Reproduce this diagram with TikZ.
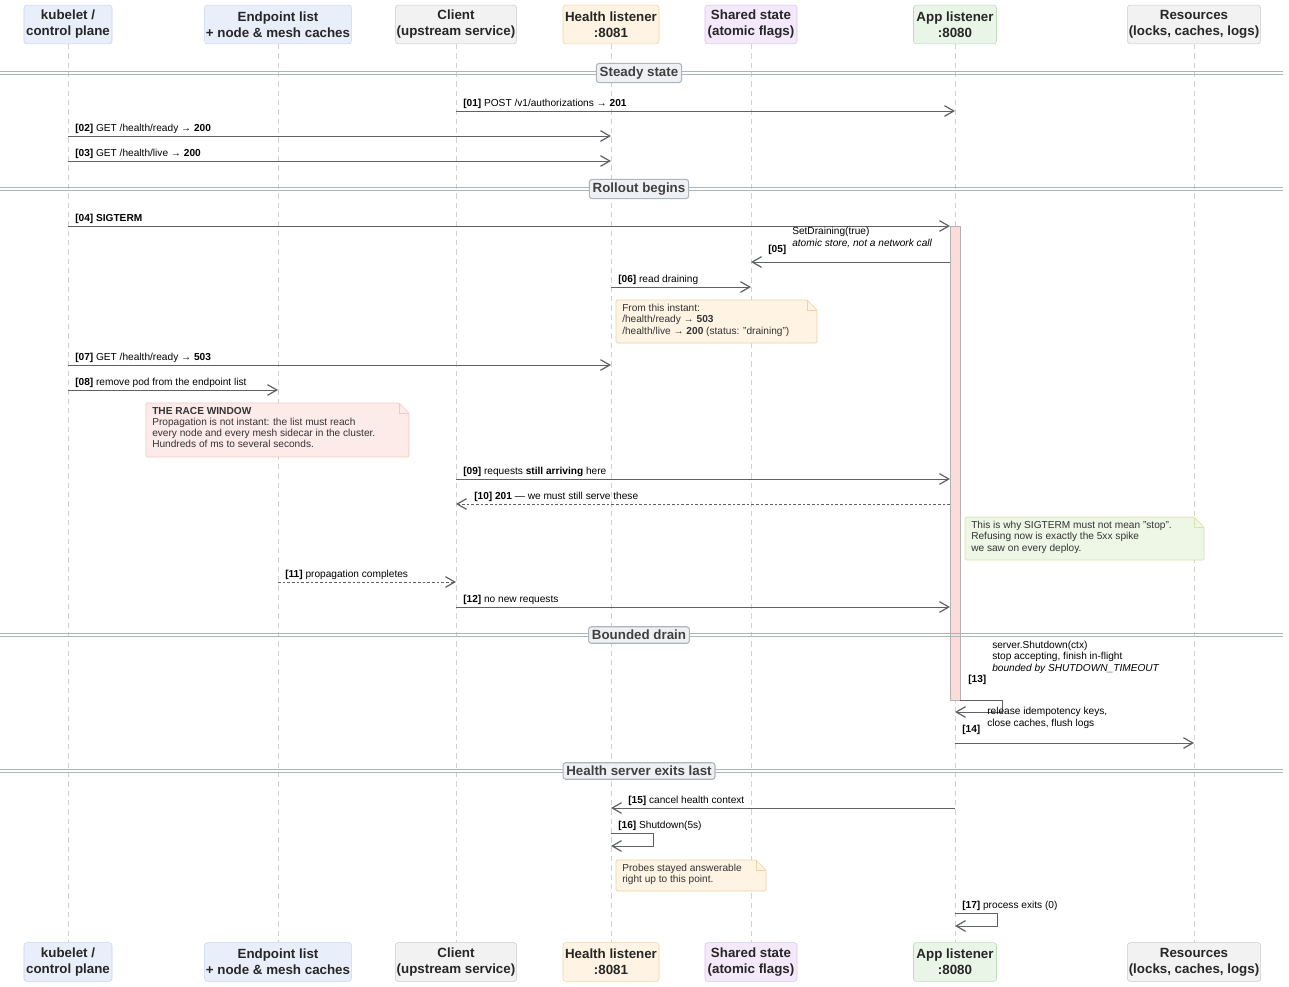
\documentclass[tikz,border=0pt]{standalone}
\usepackage{fontspec}
\setmainfont{Liberation Sans}
\usetikzlibrary{arrows.meta}

\definecolor{blueF}{HTML}{E9EFFA}\definecolor{blueD}{HTML}{C5D3EA}
\definecolor{grayF}{HTML}{F2F2F3}\definecolor{grayD}{HTML}{C9CBCF}
\definecolor{orangeF}{HTML}{FFF4E3}\definecolor{orangeD}{HTML}{EDD2A4}
\definecolor{purpleF}{HTML}{F4E8FB}\definecolor{purpleD}{HTML}{D8C4E8}
\definecolor{greenF}{HTML}{E9F5E6}\definecolor{greenD}{HTML}{BDDCB8}
\definecolor{pinkF}{HTML}{FDEBE9}\definecolor{pinkD}{HTML}{F0C9C4}
\definecolor{noteGF}{HTML}{EEF6E6}\definecolor{noteGD}{HTML}{DCE3A8}
\definecolor{barF}{HTML}{FADCD8}
\definecolor{lineC}{HTML}{5E6166}
\definecolor{divF}{HTML}{EEF0F3}\definecolor{divD}{HTML}{AEB4BC}

\tikzset{
  part/.style={draw, rounded corners=2pt, align=center, font=\bfseries, text=black!85,
    minimum height=29pt, inner sep=1pt},
  life/.style={draw=black!18, dash pattern=on 4pt off 3pt, line width=0.5pt},
  msg/.style={draw=lineC, line width=0.6pt, -{Straight Barb[length=7pt,width=8pt,line width=0.9pt]}},
  reply/.style={msg, dash pattern=on 2pt off 1.5pt},
  lbl/.style={anchor=base west, inner sep=0pt, align=left},
  divider/.style={draw=divD, fill=divF, rounded corners=2pt, font=\bfseries, text=black!75,
    line width=0.8pt, inner sep=2.5pt},
  notetext/.style={anchor=north west, inner sep=0pt, align=left, text=black!80}
}

% dog-ear note: x1,y1,x2,y2,fill,draw
\newcommand{\notebox}[6]{%
  \draw[fill=#5, draw=#6, line width=0.5pt, rounded corners=1pt]
    (#1,#2) -- (#3-10,#2) -- (#3,#2+10) -- (#3,#4) -- (#1,#4) -- cycle;
  \draw[draw=#6, line width=0.5pt] (#3-10,#2) -- (#3-10,#2+10) -- (#3,#2+10);}

\newcommand{\divline}[2]{%
  \draw[divD, line width=0.6pt] (0,#1-1.5) -- (1283,#1-1.5) (0,#1+1.5) -- (1283,#1+1.5);
  \node[divider] at (639,#1) {#2};}

\begin{document}
\begin{tikzpicture}[x=0.75pt, y=-0.75pt, font=\fontsize{7.6}{8.4}\selectfont]
\useasboundingbox[fill=white] (0,0) rectangle (1289,986);

% Participants
\foreach \n/\x/\w/\f/\d/\t in {
  kub/68/88/blueF/blueD/{kubelet /\\control plane},
  end/278/144/blueF/blueD/{Endpoint list\\+ node \& mesh caches},
  cli/456/121/grayF/grayD/{Client\\(upstream service)},
  hea/611/96/orangeF/orangeD/{Health listener\\:8081},
  sha/751/92/purpleF/purpleD/{Shared state\\(atomic flags)},
  app/955/83/greenF/greenD/{App listener\\:8080},
  res/1194/132/grayF/grayD/{Resources\\(locks, caches, logs)}}{
  \node[part, fill=\f, draw=\d, minimum width=\w*0.75pt] (\n) at (\x,24.5) {\t};
  \node[part, fill=\f, draw=\d, minimum width=\w*0.75pt] (\n b) at (\x,962) {\t};
  \draw[life] (\n.south) -- (\n b.north);
}

% Activation bar
\draw[fill=barF, draw=black!30, line width=0.5pt] (950,226) rectangle (960,700);

% Phases
\divline{73}{Steady state}
\divline{189}{Rollout begins}
\divline{635}{Bounded drain}
\divline{771}{Health server exits last}

% Messages
\draw[msg] (cli |- 0,111) -- (app |- 0,111);
\node[lbl] at (463,106) {\textbf{[01]} POST /v1/authorizations → \textbf{201}};
\draw[msg] (kub |- 0,136) -- (hea |- 0,136);
\node[lbl] at (75,131) {\textbf{[02]} GET /health/ready → \textbf{200}};
\draw[msg] (kub |- 0,161) -- (hea |- 0,161);
\node[lbl] at (75,156) {\textbf{[03]} GET /health/live → \textbf{200}};

\draw[msg] (kub |- 0,226) -- (950,226);
\node[lbl] at (75,221) {\textbf{[04] SIGTERM}};
\draw[msg] (950,262) -- (sha |- 0,262);
\node[lbl] at (768,252) {\textbf{[05]}};
\node[lbl] at (792,246) {SetDraining(true)\\\textit{atomic store, not a network call}};
\draw[msg] (hea |- 0,287) -- (sha |- 0,287);
\node[lbl] at (618,282) {\textbf{[06]} read draining};

\notebox{616}{300}{817}{343}{orangeF}{orangeD}
\node[notetext] at (622,304) {From this instant:\\/health/ready → \textbf{503}\\/health/live → \textbf{200} (status: "draining")};

\draw[msg] (kub |- 0,365) -- (hea |- 0,365);
\node[lbl] at (75,360) {\textbf{[07]} GET /health/ready → \textbf{503}};
\draw[msg] (kub |- 0,390) -- (end |- 0,390);
\node[lbl] at (75,385) {\textbf{[08]} remove pod from the endpoint list};

\notebox{146}{403}{409}{457}{pinkF}{pinkD}
\node[notetext] at (152,407) {\textbf{THE RACE WINDOW}\\Propagation is not instant: the list must reach\\every node and every mesh sidecar in the cluster.\\Hundreds of ms to several seconds.};

\draw[msg] (cli |- 0,479) -- (950,479);
\node[lbl] at (463,474) {\textbf{[09]} requests \textbf{still arriving} here};
\draw[reply] (950,504) -- (cli |- 0,504);
\node[lbl] at (474,499) {\textbf{[10] 201} — we must still serve these};

\notebox{965}{517}{1204}{560}{noteGF}{noteGD}
\node[notetext] at (971,521) {This is why SIGTERM must not mean "stop".\\Refusing now is exactly the 5xx spike\\we saw on every deploy.};

\draw[reply] (end |- 0,582) -- (cli |- 0,582);
\node[lbl] at (285,577) {\textbf{[11]} propagation completes};
\draw[msg] (cli |- 0,607) -- (950,607);
\node[lbl] at (463,602) {\textbf{[12]} no new requests};

\draw[msg] (960,700) -- (1002,700) -- (1002,712) -- (app |- 0,712);
\node[lbl] at (968,682) {\textbf{[13]}};
\node[lbl] at (992,671) {server.Shutdown(ctx)\\stop accepting, finish in-flight\\\textit{bounded by SHUTDOWN\_TIMEOUT}};
\draw[msg] (app |- 0,743) -- (res |- 0,743);
\node[lbl] at (962,732) {\textbf{[14]}};
\node[lbl] at (987,726) {release idempotency keys,\\close caches, flush logs};

\draw[msg] (app |- 0,808) -- (hea |- 0,808);
\node[lbl] at (628,803) {\textbf{[15]} cancel health context};
\draw[msg] (hea |- 0,833) -- (653,833) -- (653,846) -- (hea |- 0,846);
\node[lbl] at (618,828) {\textbf{[16]} Shutdown(5s)};

\notebox{616}{860}{766}{891}{orangeF}{orangeD}
\node[notetext] at (622,864) {Probes stayed answerable\\right up to this point.};

\draw[msg] (app |- 0,913) -- (997,913) -- (997,926) -- (app |- 0,926);
\node[lbl] at (962,908) {\textbf{[17]} process exits (0)};
\end{tikzpicture}
\end{document}
